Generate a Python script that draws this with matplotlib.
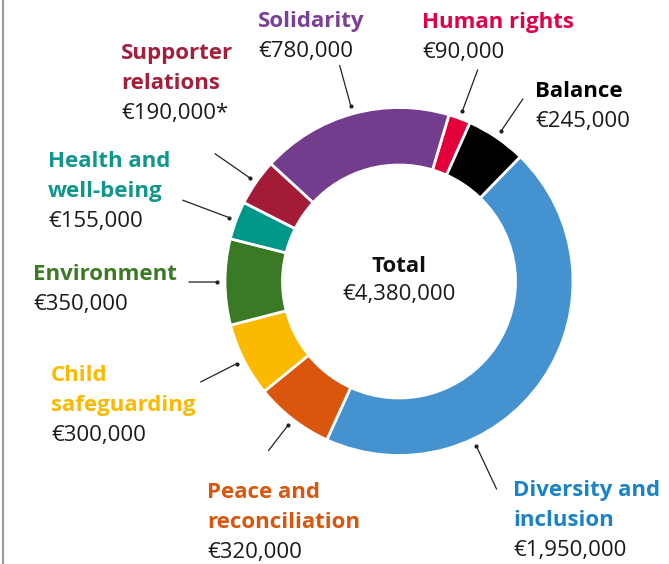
import numpy as np
import matplotlib.pyplot as plt

plt.rcParams['font.family'] = ['Open Sans', 'DejaVu Sans']

W, H = 669, 564

# data, clockwise from the top
categories = ['Human rights', 'Balance', 'Diversity and\ninclusion', 'Peace and\nreconciliation',
              'Child\nsafeguarding', 'Environment', 'Health and\nwell-being',
              'Supporter\nrelations', 'Solidarity']
amounts = [90000, 245000, 1950000, 320000, 300000, 350000, 155000, 190000, 780000]
notes = ['', '', '', '', '', '', '', '*', '']
wedge_colors = ['#e4003b', '#000000', '#4592d0', '#d9560c', '#fbb900',
                '#3b7a25', '#009689', '#a31b37', '#743c8c']
label_colors = ['#e2004a', '#000000', '#1a82c8', '#d9560c', '#fbb900',
                '#3b7a25', '#0f978c', '#a51f3d', '#7b3f98']

# layout (pixels from top-left): label x, first baseline
label_pos = [(422, 28), (535, 97), (513, 496), (207, 498), (51, 381),
             (33, 280), (48, 167), (121, 59), (258, 27)]
leader_out = [1.30, 1.27, 1.32, 1.23, 1.28, 1.21, 1.33, 1.29, 1.29]
leader_frac = [0.5, 0.5, 0.69, 0.5, 0.5, 0.5, 0.5, 0.5, 0.5]

cx, cy, R, ring = 399, H - 281.5, 174, 57.5
line_h = 30
fs = 16

fig = plt.figure(figsize=(W / 100, H / 100), dpi=100)
ax = fig.add_axes([0, 0, 1, 1])

wedges, _ = ax.pie(amounts, colors=wedge_colors, startangle=90 - 16.7, counterclock=False,
                   radius=R, center=(cx, cy),
                   wedgeprops=dict(width=ring, edgecolor='white', linewidth=2))

for i, w in enumerate(wedges):
    ang = np.deg2rad(w.theta2 - leader_frac[i] * (w.theta2 - w.theta1))
    x0, y0 = cx + 1.045 * R * np.cos(ang), cy + 1.045 * R * np.sin(ang)
    x1, y1 = cx + leader_out[i] * R * np.cos(ang), cy + leader_out[i] * R * np.sin(ang)
    ax.plot([x0, x1], [y0, y1], color='#222222', lw=0.9, solid_capstyle='butt')
    ax.plot(x0, y0, 'o', color='#222222', ms=2)

    lx, ly = label_pos[i]
    lines = categories[i].split('\n')
    for j, t in enumerate(lines):
        ax.text(lx, H - (ly + j * line_h), t, color=label_colors[i], fontsize=fs,
                fontweight='bold', va='baseline', ha='left')
    ax.text(lx, H - (ly + len(lines) * line_h), '€{:,}{}'.format(amounts[i], notes[i]),
            color='#1a1a1a', fontsize=fs, va='baseline', ha='left')

ax.text(cx, H - 272, 'Total', fontsize=fs, fontweight='bold', color='#111111',
        ha='center', va='baseline')
ax.text(cx, H - 300, '€{:,}'.format(sum(amounts)), fontsize=fs, color='#1a1a1a',
        ha='center', va='baseline')

ax.plot([2.5, 2.5], [0, H], color='#999999', lw=1.5)

ax.set_xlim(0, W)
ax.set_ylim(0, H)
ax.set_aspect('auto')
ax.axis('off')

fig.savefig('out.png', dpi=100)
